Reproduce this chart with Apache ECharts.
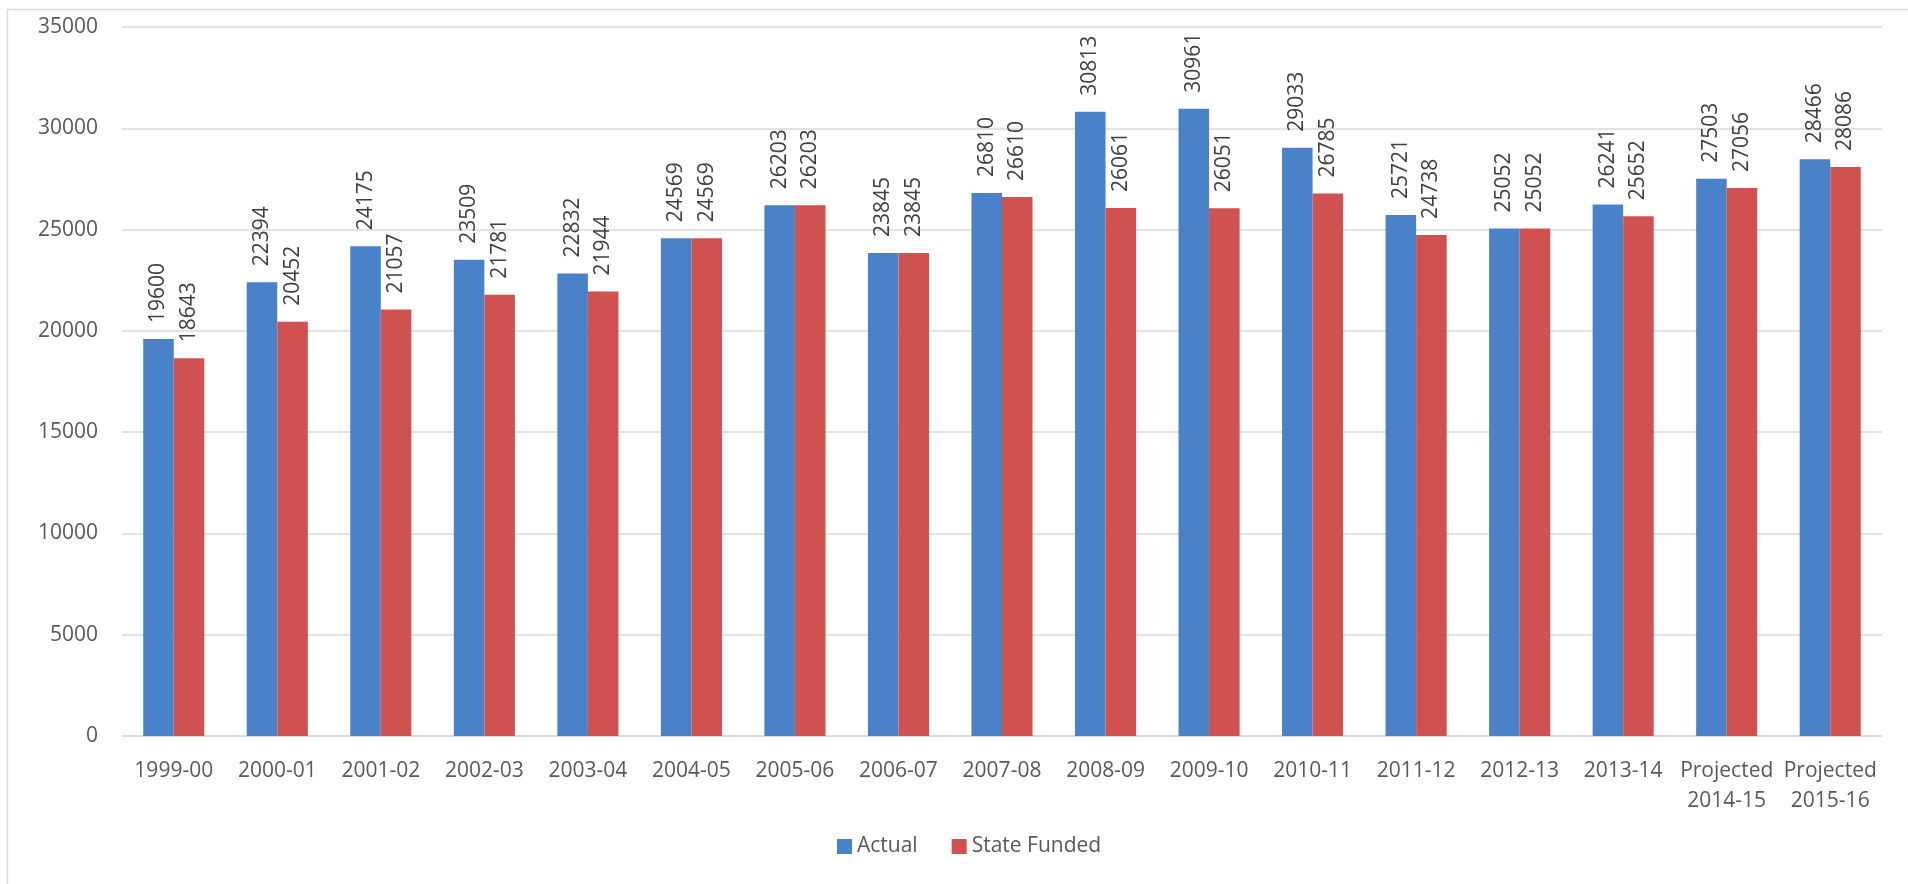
<!DOCTYPE html>
<html>
<head>
<meta charset="utf-8">
<script src="https://cdn.jsdelivr.net/npm/echarts@6/dist/echarts.min.js"></script>
<style>
  html, body { margin: 0; padding: 0; background: #fff; }
  #chart { width: 1908px; height: 884px; }
</style>
</head>
<body>
<div id="chart"></div>
<script>
// School years shown along the x axis
const years = ['1999-00', '2000-01', '2001-02', '2002-03', '2003-04', '2004-05', '2005-06',
  '2006-07', '2007-08', '2008-09', '2009-10', '2010-11', '2011-12', '2012-13', '2013-14',
  'Projected\n2014-15', 'Projected\n2015-16'];

// Actual enrollment per year
const actual = [19600, 22394, 24175, 23509, 22832, 24569, 26203, 23845, 26810, 30813,
  30961, 29033, 25721, 25052, 26241, 27503, 28466];

// State-funded enrollment per year
const stateFunded = [18643, 20452, 21057, 21781, 21944, 24569, 26203, 23845, 26610, 26061,
  26051, 26785, 24738, 25052, 25652, 27056, 28086];

const FONT = 'Open Sans, Noto Sans, sans-serif';
const TEXT = '#595959';
const SIZE = 21;

const chart = echarts.init(document.getElementById('chart'), null, { renderer: 'canvas' });

const valueLabel = {
  show: true,
  position: 'top',
  rotate: 90,
  align: 'left',
  verticalAlign: 'middle',
  distance: 16,
  color: '#404040',
  fontFamily: FONT,
  fontSize: SIZE
};

chart.setOption({
  animation: false,
  backgroundColor: '#ffffff',
  graphic: [{
    type: 'rect',
    shape: { x: 7.5, y: 9.5, width: 1960, height: 960 },
    style: { fill: 'none', stroke: '#d9d9d9', lineWidth: 1.5 },
    silent: true
  }],
  grid: { left: 122, right: 26, top: 27, bottom: 148 },
  legend: {
    bottom: 22,
    left: 832,
    itemWidth: 15,
    itemHeight: 15,
    itemGap: 34,
    icon: 'rect',
    textStyle: { color: TEXT, fontFamily: FONT, fontSize: SIZE },
    data: ['Actual', 'State Funded']
  },
  xAxis: {
    type: 'category',
    data: years,
    axisLine: { lineStyle: { color: '#d9d9d9', width: 1.5 } },
    axisTick: { show: false },
    axisLabel: {
      color: TEXT, fontFamily: FONT, fontSize: SIZE, interval: 0,
      margin: 20, lineHeight: 30
    }
  },
  yAxis: {
    type: 'value',
    min: 0,
    max: 35000,
    interval: 5000,
    axisLine: { show: false },
    axisTick: { show: false },
    axisLabel: {
      color: TEXT, fontFamily: FONT, fontSize: SIZE, margin: 24,
      formatter: v => String(v)
    },
    splitLine: { lineStyle: { color: '#d9d9d9', width: 1.5 } }
  },
  series: [
    {
      name: 'Actual',
      type: 'bar',
      data: actual,
      barGap: '0%',
      barCategoryGap: '41%',
      itemStyle: { color: '#4a82c9' },
      label: valueLabel
    },
    {
      name: 'State Funded',
      type: 'bar',
      data: stateFunded,
      barGap: '0%',
      barCategoryGap: '41%',
      itemStyle: { color: '#cf5250' },
      label: valueLabel
    }
  ]
});
</script>
</body>
</html>
